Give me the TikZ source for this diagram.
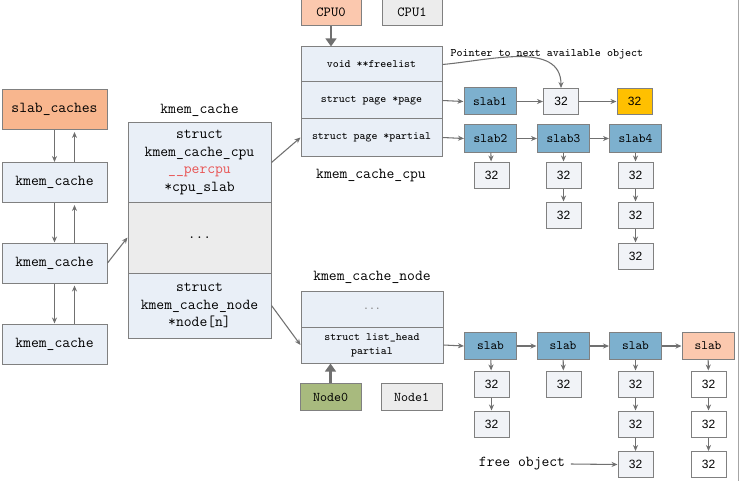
\documentclass[tikz,border=0pt]{standalone}
\usepackage{fontspec}
\newfontfamily\numfont{Liberation Sans}
\usetikzlibrary{arrows.meta}
\definecolor{edge}{RGB}{128,128,128}
\definecolor{lineclr}{RGB}{112,112,112}
\definecolor{paleblue}{RGB}{233,239,247}
\definecolor{palegray}{RGB}{236,236,236}
\definecolor{cellfill}{RGB}{241,243,247}
\definecolor{slabblue}{RGB}{125,176,206}
\definecolor{salmon}{RGB}{248,182,142}
\definecolor{peach}{RGB}{251,200,174}
\definecolor{gold}{RGB}{255,192,0}
\definecolor{olive}{RGB}{168,186,126}
\definecolor{pcpu}{RGB}{232,84,84}

\begin{document}
\begin{tikzpicture}[x=0.75pt,y=-0.75pt,
    every node/.style={draw=edge,line width=0.75pt,inner sep=0pt,align=center},
    plain/.style={draw=none,font=\ttfamily\fontsize{11.4}{13}\selectfont},
    lbox/.style={fill=paleblue,minimum width=78.75pt,minimum height=30pt,font=\ttfamily\fontsize{11.4}{13}\selectfont},
    bigsec/.style={fill=paleblue,minimum width=107.25pt,font=\ttfamily\fontsize{11.4}{13.3}\selectfont},
    csec/.style={fill=paleblue,minimum width=105.75pt,font=\ttfamily\addfontfeature{FakeBold=1.5}\fontsize{8.4}{10.5}\selectfont},
    nsec/.style={csec,minimum width=106.5pt},
    cpubox/.style={fill=palegray,minimum width=45pt,minimum height=20.25pt,font=\ttfamily\fontsize{10.4}{12}\selectfont},
    slabbox/.style={fill=slabblue,minimum width=39pt,minimum height=20.25pt,font=\ttfamily\fontsize{9.6}{11}\selectfont},
    cell/.style={fill=cellfill,minimum width=26.25pt,minimum height=19.5pt,font=\numfont\fontsize{9}{10}\selectfont},
    link/.style={draw=lineclr,line width=0.8pt,-{Stealth[length=4.5pt,width=3.8pt]}},
    fat/.style={draw=lineclr,line width=2.2pt,-{Triangle[length=6pt,width=8pt]}}]
\useasboundingbox (0,0) rectangle (741,481);

% slab_caches list
\node[lbox,fill=salmon] (slabcaches) at (54.5,109.5) {slab\_caches};
\node[lbox] (kmc1) at (54.5,182.5) {kmem\_cache};
\node[lbox] (kmc2) at (54.5,263) {kmem\_cache};
\node[lbox] (kmc3) at (54.5,344) {kmem\_cache};
\foreach \a/\b in {slabcaches/kmc1,kmc1/kmc2,kmc2/kmc3}{
  \draw[link] (\a.south) -- (\b.north);
  \draw[link] ([xshift=15pt]\b.north) -- ([xshift=15pt,yshift=-1.5pt]\a.south);
}

% kmem_cache
\node[plain] (kmctitle) at (199.5,110) {kmem\_cache};
\node[bigsec,minimum height=59.25pt] (cpuslab) at (199.5,162.5) {struct\\kmem\_cache\_cpu\\{\color{pcpu}\_\_percpu}\\*cpu\_slab};
\node[bigsec,fill=palegray,minimum height=53.25pt] (kmcdots) at (199.5,237.5) {...};
\node[bigsec,minimum height=48.75pt] (nodearr) at (199.5,305.5) {struct\\kmem\_cache\_node\\*node[n]};
\draw[link] (kmc2.east) -- (kmcdots.west);

% kmem_cache_cpu
\node[cpubox,fill=peach] (cpu0) at (331,12.5) {CPU0};
\node[cpubox] (cpu1) at (412,12.5) {CPU1};
\node[csec,minimum height=26.25pt] (freelist) at (371.5,64.5) {void **freelist};
\node[csec,minimum height=27.75pt] (page) at (371.5,100.5) {struct page *page};
\node[csec,minimum height=27.75pt] (partial) at (371.5,137.5) {struct page *partial};
\node[plain] (cputitle) at (371,176) {kmem\_cache\_cpu};
\node[plain,anchor=west,font=\ttfamily\fontsize{8.6}{10}\selectfont] (ptrnote) at (450,54) {Pointer to next available object};
\draw[fat] (cpu0.south) -- (cpu0.south |- freelist.north);
\draw[link] (cpuslab.east) -- (partial.west);

% page
\node[slabbox] (slab1) at (490,101.5) {slab1};
\node[cell] (obj1) at (561,101.5) {32};
\node[cell,fill=gold] (objfree) at (634.5,101.5) {32};
\draw[link] (page.east) -- (slab1.west);
\draw[link] (slab1) -- (obj1);
\draw[link] (obj1) -- (objfree);
\draw[link] (freelist.east) to[out=5,in=90] (obj1.north);

% partial
\node[slabbox] (slab2) at (490.5,138.5) {slab2};
\node[slabbox] (slab3) at (563.5,138.5) {slab3};
\node[slabbox] (slab4) at (635.5,138.5) {slab4};
\draw[link] (partial.east) -- (slab2.west);
\draw[link] (slab2) -- (slab3);
\draw[link] (slab3) -- (slab4);
\node[cell] (s2a) at (491.5,175) {32};
\node[cell] (s3a) at (563.5,175) {32};
\node[cell] (s3b) at (563.5,215) {32};
\node[cell] (s4a) at (635.5,175) {32};
\node[cell] (s4b) at (635.5,215) {32};
\node[cell] (s4c) at (635.5,256) {32};
\foreach \a/\b in {slab2/s2a,slab3/s3a,s3a/s3b,slab4/s4a,s4a/s4b,s4b/s4c}
  \draw[link] (\a) -- (\b);

% kmem_cache_node
\node[plain] (nodetitle) at (372,277) {kmem\_cache\_node};
\node[nsec,minimum height=27pt,text=gray] (ndots) at (372,309) {...};
\node[nsec,minimum height=27pt] (listhead) at (372,345) {struct list\_head\\partial};
\node[cpubox,fill=olive,minimum width=45.75pt,font=\ttfamily\addfontfeature{FakeBold=1.5}\fontsize{10}{12}\selectfont] (node0) at (330.5,397) {Node0};
\node[cpubox,minimum width=45.75pt,font=\ttfamily\fontsize{10}{12}\selectfont] (node1) at (411.5,397) {Node1};
\draw[fat] (node0.north) -- (node0.north |- listhead.south);
\draw[link] (nodearr.east) -- (listhead.west);

% partial list of node
\node[slabbox] (slaba) at (490.5,346) {slab};
\node[slabbox] (slabb) at (563,346) {slab};
\node[slabbox] (slabc) at (635.5,346) {slab};
\node[slabbox,fill=peach] (slabd) at (708,346) {slab};
\draw[link] (listhead.east) -- (slaba.west);
\draw[link] (slaba) -- (slabb);
\draw[link] (slabb) -- (slabc);
\draw[link] (slabc) -- (slabd);
\node[cell] (a1) at (491.5,384) {32};
\node[cell] (a2) at (491.5,424) {32};
\node[cell] (b1) at (563.5,384) {32};
\node[cell] (c1) at (635.5,384) {32};
\node[cell] (c2) at (635.5,424) {32};
\node[cell] (c3) at (635.5,464.5) {32};
\node[cell,fill=white] (d1) at (708.5,384) {32};
\node[cell,fill=white] (d2) at (708.5,424) {32};
\node[cell,fill=white] (d3) at (708.5,464.5) {32};
\foreach \a/\b in {slaba/a1,a1/a2,slabb/b1,slabc/c1,c1/c2,c2/c3,slabd/d1,d1/d2,d2/d3}
  \draw[link] (\a) -- (\b);
\node[plain] (freeobj) at (522,464) {free object};
\draw[link] ([xshift=4pt]freeobj.east) -- (c3.west);

\draw[gray!70,line width=0.75pt] (738,0) -- (738,481);
\end{tikzpicture}
\end{document}
